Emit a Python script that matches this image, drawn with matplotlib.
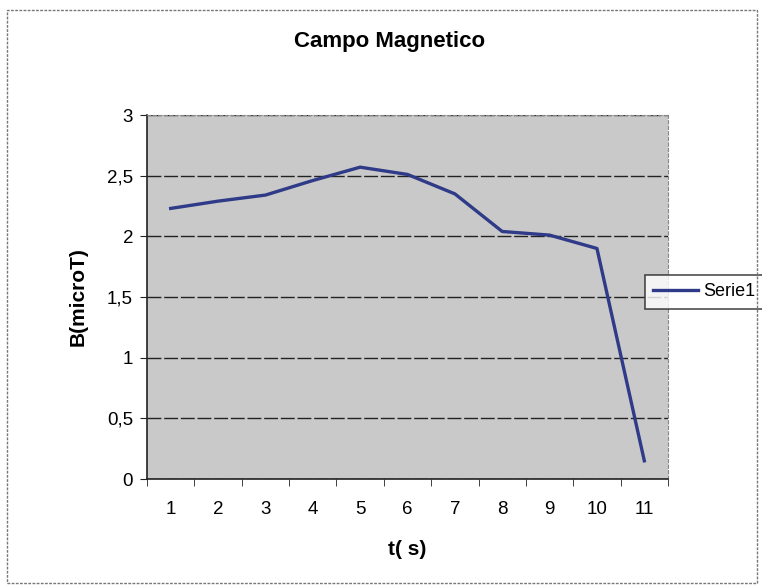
import matplotlib.pyplot as plt
from matplotlib.patches import Rectangle

plt.rcParams['font.family'] = ['Liberation Sans', 'DejaVu Sans']

# datos del campo magnetico
tiempo = [1, 2, 3, 4, 5, 6, 7, 8, 9, 10, 11]
campo = [2.23, 2.29, 2.34, 2.46, 2.57, 2.51, 2.35, 2.04, 2.01, 1.90, 0.15]
y_ticks = [0, 0.5, 1, 1.5, 2, 2.5, 3]
y_labels = ['0', '0,5', '1', '1,5', '2', '2,5', '3']

fig = plt.figure(figsize=(7.62, 5.85), dpi=100)
fig.patch.set_facecolor('white')

# marco del grafico
fig.patches.append(Rectangle((7 / 762, 2 / 585), 750 / 762, 573 / 585,
                             transform=fig.transFigure, fill=False,
                             edgecolor='#777777', linewidth=1.0, linestyle=(0, (2, 1))))

ax = fig.add_axes([147 / 762, 1 - 479 / 585, 521 / 762, 364 / 585])
ax.set_facecolor('#c9c9c9')

ax.plot(tiempo, campo, color='#2f3b88', linewidth=2.4, label='Serie1')

ax.set_xlim(0.5, 11.5)
ax.set_ylim(0, 3)
ax.set_yticks(y_ticks)
ax.set_yticklabels(y_labels)
ax.set_xticks(tiempo)
ax.set_xticks([x + 0.5 for x in [0] + tiempo], minor=True)
ax.tick_params(axis='x', which='major', length=0, pad=16, labelsize=13.5)
ax.tick_params(axis='x', which='minor', length=5, direction='out', color='#222222')
ax.tick_params(axis='y', length=5, direction='out', labelsize=13.5, color='#222222', pad=5)

ax.grid(axis='y', color='#222222', linewidth=1.0, linestyle=(0, (10, 2)))
ax.set_axisbelow(True)

for lado in ['top', 'right']:
    ax.spines[lado].set_color('#888888')
    ax.spines[lado].set_linestyle((0, (3, 2)))
    ax.spines[lado].set_linewidth(0.8)
for lado in ['left', 'bottom']:
    ax.spines[lado].set_color('#222222')
    ax.spines[lado].set_linewidth(1.2)

fig.text(390 / 762, 1 - 41 / 585, 'Campo Magnetico', fontsize=16, fontweight='bold',
         ha='center', va='center')
ax.set_xlabel('t( s)', fontsize=15, fontweight='bold', labelpad=16)
ax.set_ylabel('B(microT)', fontsize=15, fontweight='bold', labelpad=14)

leg = ax.legend(loc='center left', bbox_to_anchor=(645 / 762, 1 - 292 / 585),
                bbox_transform=fig.transFigure, frameon=True, fancybox=False,
                fontsize=13, handlelength=2.5, borderpad=0.45, handletextpad=0.3,
                borderaxespad=0)
leg.get_frame().set_edgecolor('#222222')
leg.get_frame().set_linewidth(1.2)

fig.savefig('out.png', dpi=100)
